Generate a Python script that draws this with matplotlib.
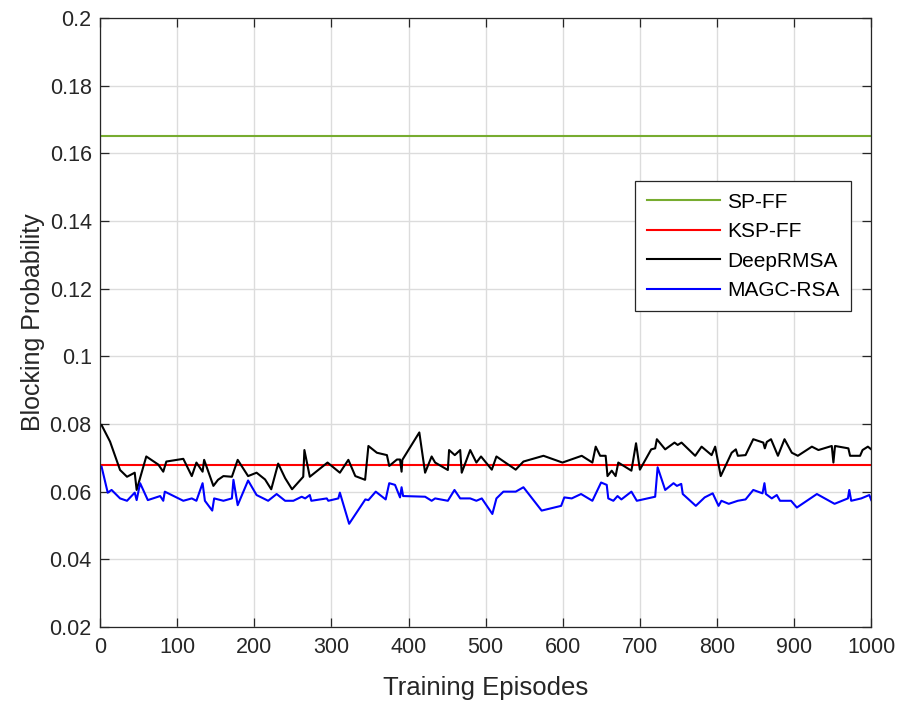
import matplotlib
matplotlib.use("Agg")
import matplotlib.pyplot as plt

# =====================================
# Data
# =====================================
sp_ff = 0.165
ksp_ff = 0.068

deep_x = [2, 13, 26, 35, 45, 47.5, 60, 75.6, 82, 86, 108, 119, 125, 133, 135,
          147, 153, 160, 171, 178.5, 192, 203, 214, 222, 231, 240, 249, 263.5,
          265, 272, 295, 311, 322, 331, 343.7, 348, 359, 372, 375, 385, 389,
          391, 392, 414, 421.5, 430, 434.5, 451, 452.6, 460, 467, 469, 480,
          488, 494, 508, 514, 539, 549, 575, 599.6, 624.6, 638.4, 642.7, 648.5,
          655.6, 658, 663.5, 668.5, 672, 689, 695, 700, 714.7, 719.8, 722,
          732.8, 744.9, 749, 754, 771.7, 780, 793, 797.6, 804.8, 819, 824.4,
          827, 837, 847, 860, 862, 864.6, 870, 879, 887.5, 897, 904.8, 923,
          931.5, 948.8, 950.9, 953, 970.3, 972.5, 985.5, 988.7, 995.6, 1000]
deep_y = [0.0797, 0.0748, 0.0664, 0.0644, 0.0656, 0.0605, 0.0704, 0.0680,
          0.0659, 0.0689, 0.0697, 0.0646, 0.0686, 0.0659, 0.0694, 0.0617,
          0.0635, 0.0646, 0.0644, 0.0694, 0.0646, 0.0656, 0.0636, 0.0607,
          0.0683, 0.0640, 0.0607, 0.0644, 0.0723, 0.0644, 0.0686, 0.0656,
          0.0694, 0.0646, 0.0635, 0.0735, 0.0715, 0.0708, 0.0676, 0.0695,
          0.0695, 0.0659, 0.0694, 0.0775, 0.0656, 0.0704, 0.0686, 0.0664,
          0.0723, 0.0708, 0.0723, 0.0656, 0.0723, 0.0686, 0.0704, 0.0665,
          0.0704, 0.0665, 0.0689, 0.0706, 0.0686, 0.0706, 0.0686, 0.0733,
          0.0706, 0.0706, 0.0646, 0.0662, 0.0646, 0.0686, 0.0662, 0.0743,
          0.0665, 0.0725, 0.0728, 0.0755, 0.0725, 0.0745, 0.0738, 0.0745,
          0.0706, 0.0733, 0.0708, 0.0733, 0.0646, 0.0715, 0.0725, 0.0706,
          0.0708, 0.0755, 0.0745, 0.0728, 0.0747, 0.0755, 0.0706, 0.0755,
          0.0715, 0.0706, 0.0733, 0.0723, 0.0735, 0.0686, 0.0735, 0.0728,
          0.0706, 0.0706, 0.0723, 0.0733, 0.0725]

magc_x = [2, 10, 15, 26, 35, 45, 47.5, 52, 62, 78, 82, 84, 108, 119, 125, 133,
          136, 145.5, 148, 160, 171, 173, 178.5, 192, 203, 218, 229, 240,
          250.7, 261.5, 266, 272, 274, 294, 296, 309, 311, 323, 344, 348,
          357.5, 370.4, 375, 382.5, 389, 391, 393, 421.5, 430, 434.5, 451,
          459.6, 467, 480, 488, 495, 508.7, 514, 523, 539, 549, 572.6, 597.9,
          602, 611.6, 623.7, 638.4, 649.7, 657, 659, 665.6, 671, 676, 689,
          696, 719.8, 723, 732.8, 743.6, 748, 753.6, 755.6, 772.5, 784, 794.4,
          802, 805.7, 815.2, 827, 837, 847, 859, 861.5, 863.4, 871, 877.5,
          881.7, 896, 903.5, 929.5, 952.4, 969.7, 971.5, 974, 987, 997.5, 1000]
magc_y = [0.0674, 0.0597, 0.0605, 0.0580, 0.0573, 0.0597, 0.0575, 0.0625,
          0.0575, 0.0587, 0.0573, 0.0600, 0.0573, 0.0580, 0.0573, 0.0625,
          0.0573, 0.0544, 0.0580, 0.0573, 0.0580, 0.0635, 0.0560, 0.0633,
          0.0590, 0.0573, 0.0593, 0.0573, 0.0573, 0.0585, 0.0580, 0.0590,
          0.0573, 0.0580, 0.0573, 0.0580, 0.0597, 0.0505, 0.0577, 0.0575,
          0.0600, 0.0577, 0.0625, 0.0620, 0.0583, 0.0613, 0.0587, 0.0585,
          0.0573, 0.0580, 0.0573, 0.0605, 0.0580, 0.0580, 0.0573, 0.0580,
          0.0534, 0.0580, 0.0600, 0.0600, 0.0613, 0.0544, 0.0558, 0.0583,
          0.0580, 0.0593, 0.0573, 0.0627, 0.0620, 0.0580, 0.0573, 0.0587,
          0.0577, 0.0600, 0.0573, 0.0585, 0.0672, 0.0605, 0.0625, 0.0617,
          0.0623, 0.0593, 0.0558, 0.0583, 0.0595, 0.0558, 0.0573, 0.0564,
          0.0573, 0.0577, 0.0605, 0.0595, 0.0625, 0.0593, 0.0580, 0.0590,
          0.0573, 0.0573, 0.0553, 0.0593, 0.0564, 0.0580, 0.0605, 0.0573,
          0.0580, 0.0590, 0.0575]

x_ticks = list(range(0, 1001, 100))
y_ticks = [0.02, 0.04, 0.06, 0.08, 0.1, 0.12, 0.14, 0.16, 0.18, 0.2]
y_tick_labels = ["0.02", "0.04", "0.06", "0.08", "0.1", "0.12", "0.14",
                 "0.16", "0.18", "0.2"]

# =====================================
# Plot
# =====================================
plt.rcParams['font.family'] = ['Liberation Sans', 'DejaVu Sans']

fig = plt.figure(figsize=(9.01, 7.07), dpi=100)
ax = fig.add_axes([0.111, 0.1132, 0.856, 0.8613])

ax.plot([0, 1000], [sp_ff, sp_ff], color='#77AC30', linewidth=1.5, label='SP-FF')
ax.plot([0, 1000], [ksp_ff, ksp_ff], color='#FF0000', linewidth=1.5, label='KSP-FF')
ax.plot(deep_x, deep_y, color='black', linewidth=1.5, label='DeepRMSA')
ax.plot(magc_x, magc_y, color='#0000FF', linewidth=1.5, label='MAGC-RSA')

ax.set_xlim(0, 1000)
ax.set_ylim(0.02, 0.2)
ax.set_xticks(x_ticks)
ax.set_yticks(y_ticks)
ax.set_yticklabels(y_tick_labels)
ax.tick_params(direction='in', top=True, right=True, labelsize=15.5,
               length=6.5, width=0.9, colors='#262626')
ax.tick_params(axis='x', pad=7)
ax.tick_params(axis='y', pad=6)
ax.grid(True, color='#dcdcdc', linewidth=1.0)
ax.set_axisbelow(True)
for s in ax.spines.values():
    s.set_color('#262626')
    s.set_linewidth(0.9)

ax.set_xlabel("Training Episodes", fontsize=18.5, color='#262626', labelpad=13)
ax.set_ylabel("Blocking Probability", fontsize=18, color='#262626', labelpad=3)

leg = ax.legend(loc='upper left', bbox_to_anchor=(0.694, 0.732),
                fontsize=15, fancybox=False, framealpha=1,
                edgecolor='#262626', borderaxespad=0, handlelength=3.5,
                handletextpad=0.35, labelspacing=0.5, borderpad=0.55)
leg.get_frame().set_linewidth(0.9)

plt.savefig("out.png", dpi=100)
